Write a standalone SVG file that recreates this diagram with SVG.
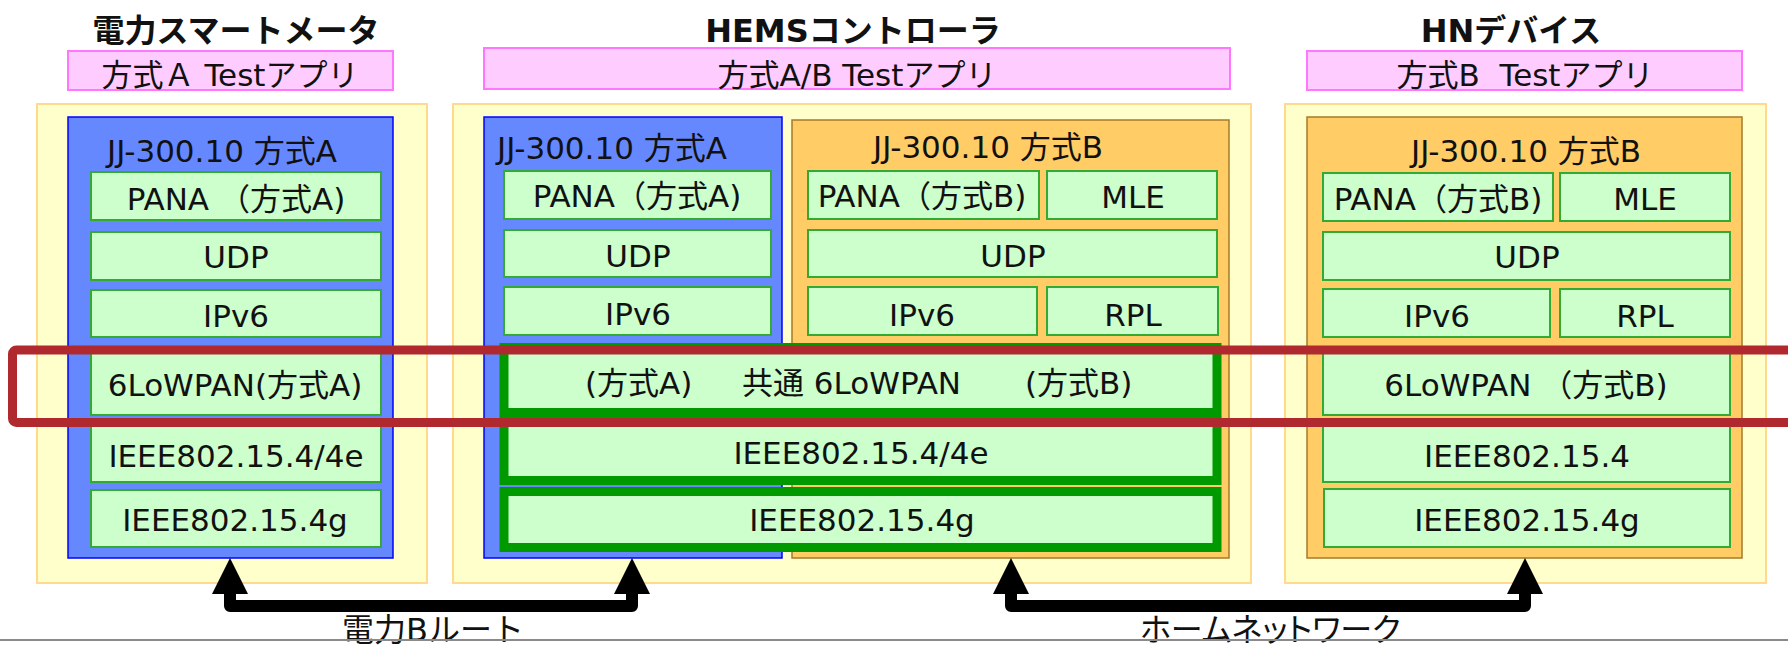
<svg xmlns="http://www.w3.org/2000/svg" width="1788" height="646" viewBox="0 0 1788 646">
<defs>
<style>
text{font-family:'DejaVu Sans','Noto Sans CJK JP',sans-serif;fill:#111;white-space:pre}
.t{font-size:31px;text-anchor:middle}
.ttl{font-size:32px;font-weight:bold;text-anchor:middle}
.lbl{font-size:32px;text-anchor:start}
.yel{fill:#FFFFCC;stroke:#FFD98C;stroke-width:2}
.pink{fill:#FFCCFF;stroke:#FF77FF;stroke-width:2}
.blue{fill:#6688FF;stroke:#0000FF;stroke-width:1.5}
.org{fill:#FFCC66;stroke:#A57A2A;stroke-width:1.5}
.grn{fill:#CCFFCC;stroke:#33AA33;stroke-width:2}
.cmn{fill:#CCFFCC;stroke:#009900;stroke-width:9}
.conn{fill:none;stroke:#000;stroke-width:12;stroke-linejoin:round;marker-start:url(#ah);marker-end:url(#ah)}
</style>
<marker id="ah" markerUnits="userSpaceOnUse" viewBox="0 0 36 36" refX="0" refY="18" markerWidth="36" markerHeight="36" orient="auto-start-reverse">
<path d="M0,0 L36,18 L0,36 z" fill="#000"/>
</marker>
</defs>
<rect width="1788" height="646" fill="#fff"/>

<g id="smartmeter">
<text class="ttl" x="236" y="42">電力スマートメータ</text>
<rect class="pink" x="68" y="51" width="325" height="39"/>
<text class="t" x="230" y="86">方式Ａ Testアプリ</text>
<rect class="yel" x="37" y="104" width="390" height="479"/>
<rect class="blue" x="68" y="117" width="325" height="441"/>
<text class="t" x="222" y="162">JJ-300.10 方式A</text>
<rect class="grn" x="91" y="172" width="290" height="48"/>
<text class="t" x="236" y="210">PANA （方式A)</text>
<rect class="grn" x="91" y="232" width="290" height="48"/>
<text class="t" x="236" y="268">UDP</text>
<rect class="grn" x="91" y="290" width="290" height="47"/>
<text class="t" x="236" y="327">IPv6</text>
<rect class="grn" x="91" y="349" width="290" height="66"/>
<text class="t" x="235" y="396">6LoWPAN(方式A)</text>
<rect class="grn" x="91" y="425" width="290" height="57"/>
<text class="t" x="236" y="467">IEEE802.15.4/4e</text>
<rect class="grn" x="91" y="490" width="290" height="57"/>
<text class="t" x="235" y="531">IEEE802.15.4g</text>
</g>

<g id="hems">
<text class="ttl" x="853" y="42">HEMSコントローラ</text>
<rect class="pink" x="484" y="48" width="746" height="41"/>
<text class="t" x="857" y="86">方式A/B Testアプリ</text>
<rect class="yel" x="453" y="104" width="798" height="479"/>
<rect class="blue" x="484" y="117" width="298" height="441"/>
<rect class="org" x="792" y="120" width="437" height="438"/>
<text class="t" x="612" y="159">JJ-300.10 方式A</text>
<rect class="grn" x="504" y="171" width="267" height="48"/>
<text class="t" x="637" y="207">PANA（方式A)</text>
<rect class="grn" x="504" y="230" width="267" height="47"/>
<text class="t" x="638" y="267">UDP</text>
<rect class="grn" x="504" y="287" width="267" height="48"/>
<text class="t" x="638" y="325">IPv6</text>
<text class="t" x="988" y="158">JJ-300.10 方式B</text>
<rect class="grn" x="808" y="171" width="231" height="48"/>
<text class="t" x="922" y="207">PANA（方式B)</text>
<rect class="grn" x="1047" y="171" width="170" height="48"/>
<text class="t" x="1133" y="208">MLE</text>
<rect class="grn" x="808" y="230" width="409" height="47"/>
<text class="t" x="1013" y="267">UDP</text>
<rect class="grn" x="808" y="287" width="229" height="48"/>
<text class="t" x="922" y="326">IPv6</text>
<rect class="grn" x="1047" y="287" width="171" height="48"/>
<text class="t" x="1133" y="326">RPL</text>
<rect class="cmn" x="504" y="347.5" width="713" height="65"/>
<text class="t" style="text-anchor:start" y="394"><tspan x="585">(方式A)</tspan><tspan x="742">共通 6LoWPAN</tspan><tspan x="1025">(方式B)</tspan></text>
<rect class="cmn" x="504" y="421" width="713" height="59.5"/>
<text class="t" x="861" y="464">IEEE802.15.4/4e</text>
<rect class="cmn" x="504" y="491.5" width="713" height="56"/>
<text class="t" x="862" y="531">IEEE802.15.4g</text>
</g>

<g id="hndevice">
<text class="ttl" x="1511" y="42">HNデバイス</text>
<rect class="pink" x="1307" y="51" width="435" height="39"/>
<text class="t" x="1525" y="86">方式B  Testアプリ</text>
<rect class="yel" x="1285" y="104" width="481" height="479"/>
<rect class="org" x="1307" y="117" width="435" height="441"/>
<text class="t" x="1526" y="162">JJ-300.10 方式B</text>
<rect class="grn" x="1323" y="173" width="230" height="48"/>
<text class="t" x="1438" y="210">PANA（方式B)</text>
<rect class="grn" x="1560" y="173" width="170" height="48"/>
<text class="t" x="1645" y="210">MLE</text>
<rect class="grn" x="1323" y="232" width="407" height="48"/>
<text class="t" x="1527" y="268">UDP</text>
<rect class="grn" x="1323" y="289" width="227" height="48"/>
<text class="t" x="1437" y="327">IPv6</text>
<rect class="grn" x="1560" y="289" width="170" height="48"/>
<text class="t" x="1645" y="327">RPL</text>
<rect class="grn" x="1323" y="349" width="407" height="66"/>
<text class="t" x="1526" y="396">6LoWPAN （方式B)</text>
<rect class="grn" x="1323" y="425" width="407" height="57"/>
<text class="t" x="1527" y="467">IEEE802.15.4</text>
<rect class="grn" x="1324" y="489" width="406" height="58"/>
<text class="t" x="1527" y="531">IEEE802.15.4g</text>
</g>

<g id="highlight">
<rect x="12.5" y="350" width="1800" height="72.5" rx="4" fill="none" stroke="#B0292F" stroke-width="9"/>
</g>

<g id="connectors">
<path class="conn" d="M230,594 V606 H632 V594"/>
<path class="conn" d="M1011,594 V606 H1525 V594"/>
<text class="lbl" x="342" y="641">電力Bルート</text>
<text class="lbl" x="1140" y="641" style="font-feature-settings:'palt'">ホームネットワーク</text>
</g>
<line x1="0" y1="640" x2="1788" y2="640" stroke="#8A8A8A" stroke-width="2"/>
</svg>
